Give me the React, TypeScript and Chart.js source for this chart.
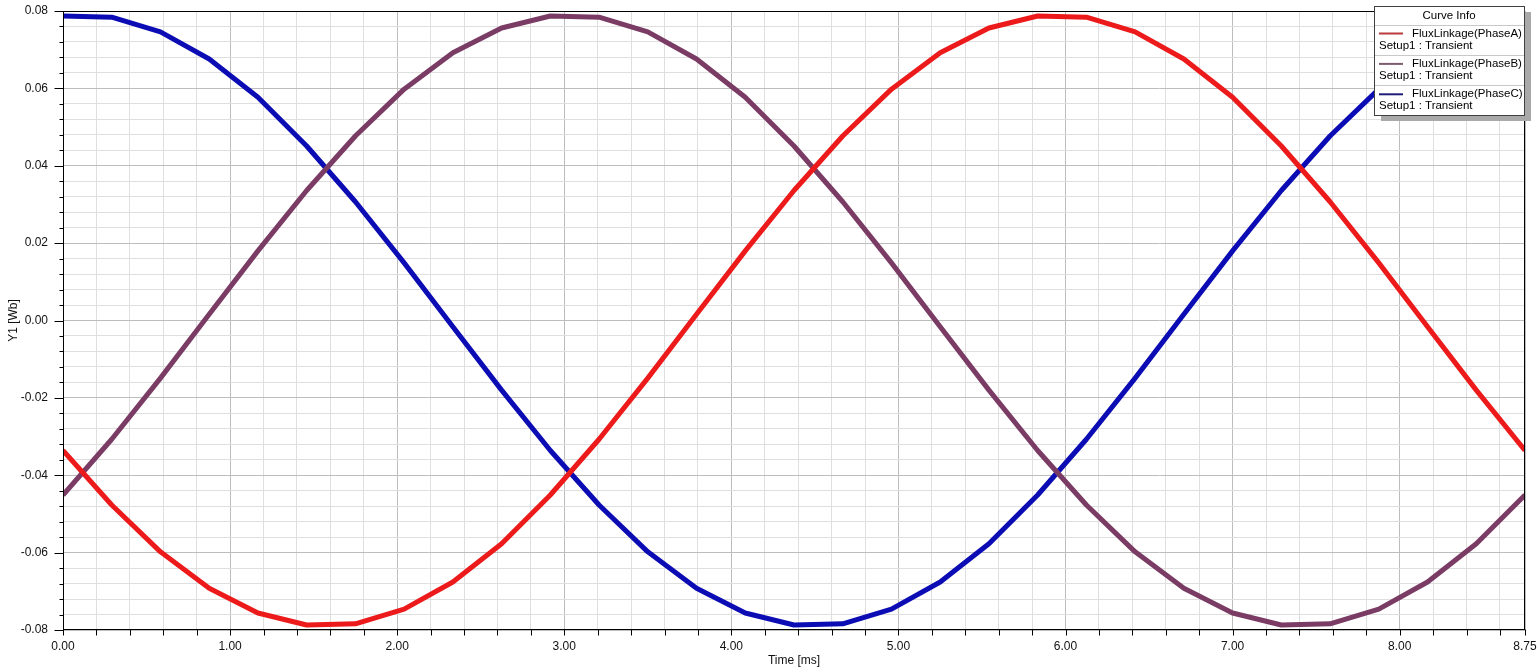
import { useEffect, useRef } from "react";
import { Chart, registerables } from "chart.js";

Chart.register(...registerables);

// ---- data ----
const TIME_MS = [
  0.0, 0.2917, 0.5833, 0.875, 1.1667, 1.4583, 1.75, 2.0417, 2.3333, 2.625, 2.9167,
  3.2083, 3.5, 3.7917, 4.0833, 4.375, 4.6667, 4.9583, 5.25, 5.5417, 5.8333,
  6.125, 6.4167, 6.7083, 7.0, 7.2917, 7.5833, 7.875, 8.1667, 8.4583, 8.75,
];

const PHASE_A = [
  -0.0336, -0.0477, -0.0598, -0.0692, -0.0756, -0.0787, -0.0784, -0.0746, -0.0676, -0.0577, -0.0451,
  -0.0307, -0.0149, 0.0016, 0.018, 0.0336, 0.0477, 0.0598, 0.0692, 0.0756, 0.0787,
  0.0784, 0.0746, 0.0676, 0.0577, 0.0451, 0.0307, 0.0149, -0.0016, -0.018, -0.0336,
];

const PHASE_B = [
  -0.0451, -0.0307, -0.0149, 0.0016, 0.018, 0.0336, 0.0477, 0.0598, 0.0692, 0.0756, 0.0787,
  0.0784, 0.0746, 0.0676, 0.0577, 0.0451, 0.0307, 0.0149, -0.0016, -0.018, -0.0336,
  -0.0477, -0.0598, -0.0692, -0.0756, -0.0787, -0.0784, -0.0746, -0.0676, -0.0577, -0.0451,
];

const PHASE_C = [
  0.0787, 0.0784, 0.0746, 0.0676, 0.0577, 0.0451, 0.0307, 0.0149, -0.0016, -0.018, -0.0336,
  -0.0477, -0.0598, -0.0692, -0.0756, -0.0787, -0.0784, -0.0746, -0.0676, -0.0577, -0.0451,
  -0.0307, -0.0149, 0.0016, 0.018, 0.0336, 0.0477, 0.0598, 0.0692, 0.0756, 0.0787,
];

const SERIES_NAMES = ["FluxLinkage(PhaseA)", "FluxLinkage(PhaseB)", "FluxLinkage(PhaseC)"];
const SERIES_SETUP = "Setup1 : Transient";
const LEGEND_TITLE = "Curve Info";
const X_TITLE = "Time [ms]";
const Y_TITLE = "Y1 [Wb]";

const X_MAJOR_TICKS = [0, 1, 2, 3, 4, 5, 6, 7, 8, 8.75];
const X_TICK_LABELS = ["0.00", "1.00", "2.00", "3.00", "4.00", "5.00", "6.00", "7.00", "8.00", "8.75"];
const X_MINOR_STEP = 0.2;

const Y_MAJOR_TICKS = [-0.08, -0.06, -0.04, -0.02, 0, 0.02, 0.04, 0.06, 0.08];
const Y_TICK_LABELS = ["-0.08", "-0.06", "-0.04", "-0.02", "0.00", "0.02", "0.04", "0.06", "0.08"];
const Y_MINOR_STEP = 0.004;

const X_MIN = 0;
const X_MAX = 8.75;
const Y_MIN = -0.08;
const Y_MAX = 0.08;

// ---- styles ----
const LINE_COLORS = ["#ec1a1a", "#7a3c64", "#0c0cb4"];
const LEGEND_LINE_COLORS = ["#b83a3a", "#7e5c70", "#1e1e7a"];
const FONT_FAMILY = "'Liberation Sans', Arial, Helvetica, sans-serif";
const MAJOR_GRID = "#bdbdbd";
const MINOR_GRID = "#dfdfdf";

const findIndex = (arr: number[], v: number) => arr.findIndex((m) => Math.abs(m - v) < 1e-7);

function buildTicks(min: number, max: number, step: number, extra: number[]) {
  const out: { value: number }[] = [];
  const n = Math.floor((max - min) / step + 1e-9);
  for (let i = 0; i <= n; i++) out.push({ value: Math.round((min + i * step) * 1e6) / 1e6 });
  extra.forEach((e) => {
    if (!out.some((t) => Math.abs(t.value - e) < 1e-7)) out.push({ value: e });
  });
  out.sort((a, b) => a.value - b.value);
  return out;
}

const frameAndTicksPlugin = {
  id: "frameAndTicks",
  afterDatasetsDraw(chart: any) {
    const { ctx, chartArea } = chart;
    const xs = chart.scales.x;
    const ys = chart.scales.y;
    const l = Math.round(chartArea.left) + 0.5;
    const r = Math.round(chartArea.right) - 0.5;
    const t = Math.round(chartArea.top) + 0.5;
    const b = Math.round(chartArea.bottom) - 0.5;
    ctx.save();
    ctx.strokeStyle = "#000";
    ctx.lineWidth = 1;
    ctx.strokeRect(l, t, r - l, b - t);
    ctx.beginPath();
    xs.ticks.forEach((tk: any) => {
      const px = Math.round(xs.getPixelForValue(tk.value)) + 0.5;
      ctx.moveTo(px, b);
      ctx.lineTo(px, b + 6);
    });
    ys.ticks.forEach((tk: any) => {
      const py = Math.round(ys.getPixelForValue(tk.value)) + 0.5;
      const len = findIndex(Y_MAJOR_TICKS, tk.value) >= 0 ? 9 : 4;
      ctx.moveTo(l - len, py);
      ctx.lineTo(l, py);
    });
    ctx.stroke();
    ctx.restore();
  },
};

const curveInfoPlugin = {
  id: "curveInfo",
  afterDraw(chart: any) {
    const { ctx, chartArea } = chart;
    const bw = 150;
    const bh = 109;
    const bx = Math.round(chartArea.right) - 151;
    const by = Math.round(chartArea.top) - 5;
    ctx.save();
    ctx.fillStyle = "#a9a9a9";
    ctx.fillRect(bx + 7, by + 6, bw, bh);
    ctx.fillStyle = "#ffffff";
    ctx.fillRect(bx, by, bw, bh);
    ctx.strokeStyle = "#404040";
    ctx.lineWidth = 1;
    ctx.strokeRect(bx + 0.5, by + 0.5, bw, bh);

    ctx.strokeStyle = "#c8c8c8";
    ctx.beginPath();
    [19, 48.5, 78.5].forEach((dy) => {
      const y = Math.round(by + dy) + 0.5;
      ctx.moveTo(bx + 1, y);
      ctx.lineTo(bx + bw, y);
    });
    ctx.stroke();

    ctx.font = `11.5px ${FONT_FAMILY}`;
    ctx.fillStyle = "#000";
    ctx.textBaseline = "middle";
    ctx.textAlign = "center";
    ctx.fillText(LEGEND_TITLE, bx + bw / 2, by + 10);
    ctx.textAlign = "left";
    SERIES_NAMES.forEach((name, i) => {
      const y0 = by + 27.5 + i * 30.4;
      ctx.strokeStyle = LEGEND_LINE_COLORS[i];
      ctx.lineWidth = 2;
      ctx.beginPath();
      ctx.moveTo(bx + 5, y0);
      ctx.lineTo(bx + 29, y0);
      ctx.stroke();
      ctx.fillText(name, bx + 38, y0);
      ctx.fillText(SERIES_SETUP, bx + 5, y0 + 12);
    });
    ctx.restore();
  },
};

export default function App() {
  const canvasRef = useRef<HTMLCanvasElement | null>(null);

  useEffect(() => {
    if (!canvasRef.current) return;
    const series = [PHASE_A, PHASE_B, PHASE_C];
    const chart = new Chart(canvasRef.current, {
      type: "line",
      data: {
        datasets: series.map((vals, i) => ({
          label: SERIES_NAMES[i],
          data: TIME_MS.map((t, k) => ({ x: t, y: vals[k] })),
          borderColor: LINE_COLORS[i],
          backgroundColor: LINE_COLORS[i],
          borderWidth: 5,
          pointRadius: 0,
          tension: 0,
          fill: false,
          borderJoinStyle: "round",
          borderCapStyle: "butt",
        })),
      },
      options: {
        animation: false,
        responsive: false,
        maintainAspectRatio: false,
        devicePixelRatio: 1,
        layout: { padding: { top: 11, right: 14, left: 0, bottom: 0 } },
        plugins: {
          legend: { display: false },
          tooltip: { enabled: false },
          title: { display: false },
        },
        scales: {
          x: {
            type: "linear",
            min: X_MIN,
            max: X_MAX,
            afterBuildTicks: (scale: any) => {
              scale.ticks = buildTicks(X_MIN, X_MAX, X_MINOR_STEP, X_MAJOR_TICKS);
            },
            afterFit: (scale: any) => {
              scale.height = 40;
              scale.paddingLeft = 0;
              scale.paddingRight = 0;
            },
            ticks: {
              autoSkip: false,
              maxRotation: 0,
              minRotation: 0,
              padding: 9,
              color: "#111",
              font: { family: FONT_FAMILY, size: 12 },
              callback: (v: any) => {
                const i = findIndex(X_MAJOR_TICKS, Number(v));
                return i >= 0 ? X_TICK_LABELS[i] : "";
              },
            },
            grid: {
              drawTicks: false,
              lineWidth: 1,
              color: (c: any) =>
                c.tick && findIndex(X_MAJOR_TICKS, c.tick.value) >= 0 ? MAJOR_GRID : MINOR_GRID,
            },
            border: { display: false },
            title: {
              display: true,
              text: X_TITLE,
              color: "#111",
              font: { family: FONT_FAMILY, size: 12 },
              padding: { top: 0, bottom: 2 },
            },
          },
          y: {
            type: "linear",
            min: Y_MIN,
            max: Y_MAX,
            afterBuildTicks: (scale: any) => {
              scale.ticks = buildTicks(Y_MIN, Y_MAX, Y_MINOR_STEP, Y_MAJOR_TICKS);
            },
            afterFit: (scale: any) => {
              scale.width = 63;
              scale.paddingTop = 0;
              scale.paddingBottom = 0;
            },
            ticks: {
              autoSkip: false,
              padding: 15,
              color: "#111",
              font: { family: FONT_FAMILY, size: 12 },
              callback: (v: any) => {
                const i = findIndex(Y_MAJOR_TICKS, Number(v));
                return i >= 0 ? Y_TICK_LABELS[i] : "";
              },
            },
            grid: {
              drawTicks: false,
              lineWidth: 1,
              color: (c: any) =>
                c.tick && findIndex(Y_MAJOR_TICKS, c.tick.value) >= 0 ? MAJOR_GRID : MINOR_GRID,
            },
            border: { display: false },
            title: {
              display: true,
              text: Y_TITLE,
              color: "#111",
              font: { family: FONT_FAMILY, size: 12 },
              padding: { top: 6, bottom: 0 },
            },
          },
        },
      },
      plugins: [frameAndTicksPlugin, curveInfoPlugin],
    } as any);
    return () => chart.destroy();
  }, []);

  return (
    <div style={{ position: "absolute", left: 0, top: 0, width: 1539, height: 670, background: "#fff" }}>
      <canvas ref={canvasRef} width={1539} height={670} style={{ display: "block" }} />
    </div>
  );
}
